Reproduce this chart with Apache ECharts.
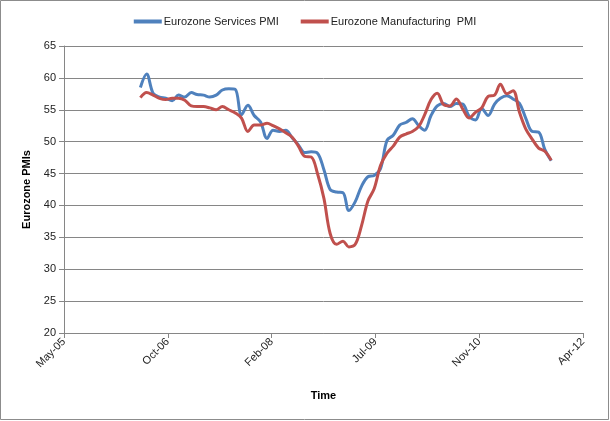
<!DOCTYPE html>
<html>
<head>
<meta charset="utf-8">
<script src="https://cdn.jsdelivr.net/npm/echarts@6/dist/echarts.min.js"></script>
<style>
html,body{margin:0;padding:0;background:#fff;}
#c{width:610px;height:421px;}
</style>
</head>
<body>
<div id="c"></div>
<script>
// Months (data dated at month end)
var months = [
 '2006-05','2006-06','2006-07','2006-08','2006-09','2006-10','2006-11','2006-12',
 '2007-01','2007-02','2007-03','2007-04','2007-05','2007-06','2007-07','2007-08','2007-09','2007-10','2007-11','2007-12',
 '2008-01','2008-02','2008-03','2008-04','2008-05','2008-06','2008-07','2008-08','2008-09','2008-10','2008-11','2008-12',
 '2009-01','2009-02','2009-03','2009-04','2009-05','2009-06','2009-07','2009-08','2009-09','2009-10','2009-11','2009-12',
 '2010-01','2010-02','2010-03','2010-04','2010-05','2010-06','2010-07','2010-08','2010-09','2010-10','2010-11','2010-12',
 '2011-01','2011-02','2011-03','2011-04','2011-05','2011-06','2011-07','2011-08','2011-09','2011-10'
];
var services = [
 58.5,60.6,57.6,57.0,56.8,56.4,57.3,57.0,
 57.7,57.4,57.3,57.0,57.3,58.1,58.3,58.2,54.2,55.7,54.1,53.1,
 50.5,51.8,51.6,51.8,50.6,49.5,48.3,48.4,48.2,45.6,42.5,42.1,
 42.0,39.2,40.6,43.0,44.5,44.7,45.8,50.2,51.0,52.6,53.0,53.6,
 52.5,51.8,54.1,55.6,56.0,55.5,56.0,55.9,54.0,53.4,55.2,54.1,
 55.9,56.8,57.2,56.7,56.0,53.7,51.6,51.5,48.8,47.0
];
var manufacturing = [
 56.9,57.7,57.3,56.8,56.6,56.8,56.8,56.5,
 55.6,55.5,55.5,55.3,55.0,55.5,55.0,54.5,53.7,51.6,52.6,52.6,
 52.9,52.5,52.0,51.4,50.7,49.3,47.7,47.6,45.0,41.1,35.6,33.9,
 34.4,33.5,33.9,36.8,40.7,42.6,46.3,48.2,49.3,50.7,51.2,51.6,
 52.4,54.2,56.6,57.6,55.8,55.6,56.7,55.1,53.7,54.6,55.3,57.1,
 57.3,59.0,57.5,58.0,54.6,52.0,50.4,49.0,48.5,47.1
];
var seriesNames = ['Eurozone Services PMI', 'Eurozone Manufacturing  PMI'];
var monthNames = ['Jan','Feb','Mar','Apr','May','Jun','Jul','Aug','Sep','Oct','Nov','Dec'];

// Excel-style date serials (days since 1899-12-30)
var EPOCH = Date.UTC(1899, 11, 30);
function monthEndSerial(s) {
  var p = s.split('-'); var y = +p[0], m = +p[1];
  return (Date.UTC(y, m, 0) - EPOCH) / 86400000;
}
function serialLabel(v) {
  var d = new Date(EPOCH + v * 86400000);
  var yy = String(d.getUTCFullYear() % 100); if (yy.length < 2) yy = '0' + yy;
  return monthNames[d.getUTCMonth()] + '-' + yy;
}
var xs = months.map(monthEndSerial);
function pairs(vals) { return vals.map(function (v, i) { return [xs[i], v]; }); }

var FONT = 'Liberation Sans';
var chart = echarts.init(document.getElementById('c'), null, {renderer: 'canvas'});
chart.setOption({
  animation: false,
  backgroundColor: '#fff',
  textStyle: {fontFamily: FONT},
  graphic: [{
    type: 'rect', silent: true,
    shape: {x: 0.5, y: 0.5, width: 608, height: 419},
    style: {fill: 'none', stroke: '#8c8c8c', lineWidth: 1}
  }],
  legend: {
    top: 11, left: 'center',
    itemWidth: 28, itemHeight: 4, itemGap: 22,
    icon: 'rect',
    textStyle: {fontFamily: FONT, fontSize: 11, color: '#222', padding: [0, 0, 0, -3]},
    data: seriesNames
  },
  grid: {left: 64, right: 27, top: 46, bottom: 88},
  xAxis: {
    type: 'value', min: 38500, max: 41000, interval: 500,
    name: 'Time', nameLocation: 'middle', nameGap: 57,
    nameTextStyle: {fontFamily: FONT, fontSize: 11, fontWeight: 'bold', color: '#000'},
    axisLine: {show: true, lineStyle: {color: '#868686', width: 1}},
    axisTick: {show: true, length: 5, lineStyle: {color: '#868686'}},
    splitLine: {show: false},
    axisLabel: {rotate: 45, fontFamily: FONT, fontSize: 11, color: '#222', margin: 7,
      formatter: function (v) { return serialLabel(v); }}
  },
  yAxis: {
    type: 'value', min: 20, max: 65, interval: 5,
    name: 'Eurozone PMIs', nameLocation: 'middle', nameGap: 27, nameRotate: 90,
    nameTextStyle: {fontFamily: FONT, fontSize: 11, fontWeight: 'bold', color: '#000'},
    axisLine: {show: true, lineStyle: {color: '#868686', width: 1}},
    axisTick: {show: true, length: 5, lineStyle: {color: '#868686'}},
    splitLine: {show: true, lineStyle: {color: '#868686', width: 1}},
    axisLabel: {fontFamily: FONT, fontSize: 11, color: '#222', margin: 8}
  },
  series: [
    {name: seriesNames[0], type: 'line', data: pairs(services), smooth: 0.35,
     showSymbol: false, symbol: 'none', color: '#4F81BD',
     lineStyle: {width: 3, color: '#4F81BD'}, z: 2},
    {name: seriesNames[1], type: 'line', data: pairs(manufacturing), smooth: 0.35,
     showSymbol: false, symbol: 'none', color: '#C0504D',
     lineStyle: {width: 3, color: '#C0504D'}, z: 3}
  ]
});
</script>
</body>
</html>
